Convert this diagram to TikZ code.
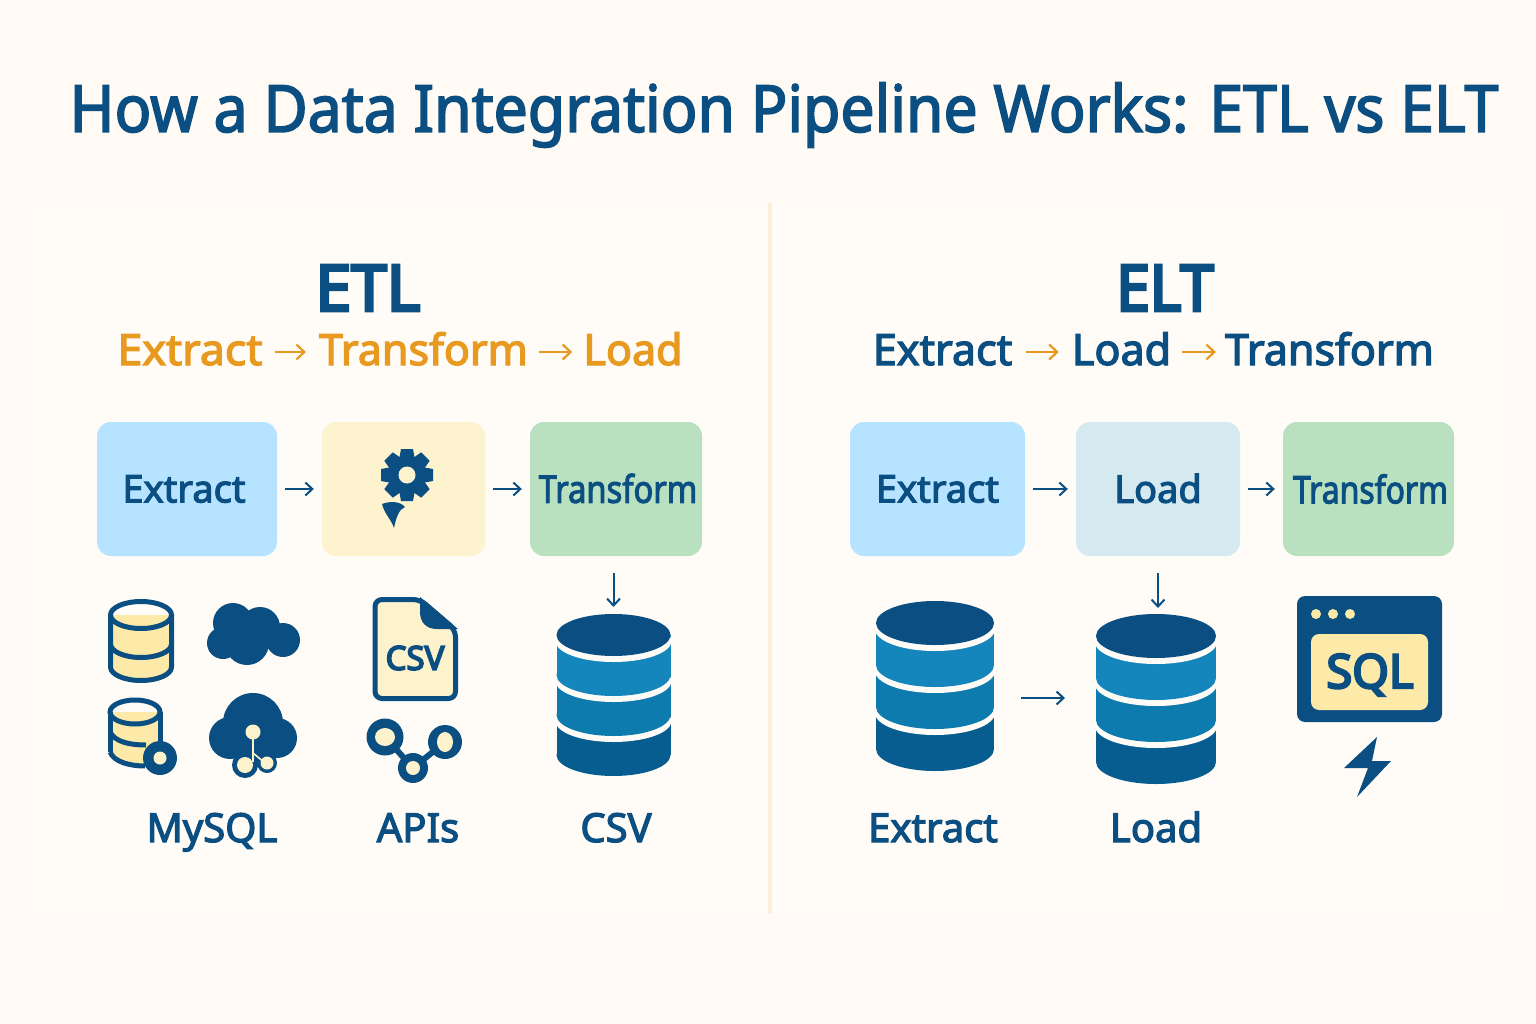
\documentclass[tikz,border=0pt]{standalone}
\usepackage{fontspec}
\usepackage{graphicx}
\usetikzlibrary{arrows.meta,calc}
\setmainfont{Noto Sans}
\newfontfamily\titlef{Noto Sans}[RawFeature={embolden=2.5},FakeStretch=0.934]
\newfontfamily\medf{Noto Sans}[RawFeature={embolden=3}]
\newfontfamily\bolf{Noto Sans}[RawFeature={embolden=5}]
\definecolor{bg}{HTML}{FFFAF4}
\definecolor{panel}{HTML}{FFFCF7}
\definecolor{rule}{HTML}{FBEEDA}
\definecolor{navy}{HTML}{0B4F82}
\definecolor{orng}{HTML}{E89A20}
\definecolor{band1}{HTML}{1586BC}
\definecolor{band2}{HTML}{0E7BAE}
\definecolor{band3}{HTML}{075C90}
\definecolor{lblue}{HTML}{B6E3FF}
\definecolor{lyell}{HTML}{FDF3CF}
\definecolor{lgreen}{HTML}{B9E1BF}
\definecolor{lteal}{HTML}{D5E9F0}
\definecolor{yel}{HTML}{FDE9A8}
\definecolor{pale}{HTML}{FCF2CB}
\tikzset{
  box/.style={rounded corners=14pt,inner sep=0pt,minimum height=134pt,text=navy,font=\medf\fontsize{38}{40}\selectfont},
  flow/.style={draw=navy,line width=2pt,-{Straight Barb[length=7pt,width=13pt,line width=2pt]},shorten <=8pt,shorten >=8pt},
  hflow/.style={draw=orng,line width=2.2pt,-{Straight Barb[length=8pt,width=15pt,line width=2.2pt]},shorten <=11pt,shorten >=11pt},
  sub/.style={inner sep=0pt,font=\medf\fontsize{43}{46}\selectfont,text height=34pt,text depth=8pt},
  lab/.style={inner sep=0pt,text=navy,font=\medf\fontsize{40}{42}\selectfont,text height=30pt,text depth=8pt},
  head/.style={inner sep=0pt,text=navy,font=\bolf\fontsize{64}{66}\selectfont},
}
\newcommand{\bigdb}[6]{% cx, top-ellipse-centre y, half width, ry, band height, name
  \pgfmathsetmacro{\ya}{#2+#5}\pgfmathsetmacro{\yb}{#2+2*#5}\pgfmathsetmacro{\yc}{#2+3*#5}
  \pgfmathsetmacro{\ga}{\ya+6}\pgfmathsetmacro{\gb}{\yb+6}\pgfmathsetmacro{\gc}{#2+6}
  \fill[band3] (#1-#3,\yb) rectangle (#1+#3,\yc);
  \fill[band3] (#1,\yc) ellipse[x radius=#3,y radius=#4];
  \fill[panel] (#1,\gb) ellipse[x radius=#3+1,y radius=#4];
  \fill[band2] (#1-#3,\ya) rectangle (#1+#3,\yb);
  \fill[band2] (#1,\yb) ellipse[x radius=#3,y radius=#4];
  \fill[panel] (#1,\ga) ellipse[x radius=#3+1,y radius=#4];
  \fill[band1] (#1-#3,#2) rectangle (#1+#3,\ya);
  \fill[band1] (#1,\ya) ellipse[x radius=#3,y radius=#4];
  \fill[panel] (#1,\gc) ellipse[x radius=#3+1,y radius=#4];
  \fill[navy] (#1,#2) ellipse[x radius=#3,y radius=#4];
  \coordinate (#6) at (#1,#2-#4);
}
\begin{document}
\begin{tikzpicture}[x=1pt,y=-1pt]
\useasboundingbox (0,0) rectangle (1536,1024);
\fill[bg] (0,0) rectangle (1536,1024);
\fill[panel] (30,205) rectangle (768,912);
\fill[panel] (772,205) rectangle (1500,912);
\fill[rule] (768,203) rectangle (772,913);

\node[inner sep=0pt,text=navy,font=\titlef\fontsize{65}{70}\selectfont] (title) at (784,115) {How a Data Integration Pipeline Works: ETL vs ELT};

\node[head] (etl) at (368,288) {ETL};
\node[head] (elt) at (1165,288) {\scalebox{0.94}[1]{ELT}};

% ETL sub-heading
\node[sub,text=orng] (s1) at (190,352) {\scalebox{1.04}[1]{Extract}};
\node[sub,text=orng] (s2) at (423.5,352) {Transform};
\node[sub,text=orng] (s3) at (633,352) {Load};
\draw[hflow,shorten <=12pt,shorten >=13pt] (s1) -- (s2);
\draw[hflow] (s2) -- (s3);
% ELT sub-heading
\node[sub,text=navy] (r1) at (942.5,352) {Extract};
\node[sub,text=navy] (r2) at (1121.5,352) {Load};
\node[sub,text=navy] (r3) at (1329.5,352) {Transform};
\draw[hflow,shorten <=14pt,shorten >=13pt] (r1) -- (r2);
\draw[hflow,shorten >=9pt] (r2) -- (r3);

% ETL boxes
\node[box,fill=lblue,minimum width=180pt] (a1) at (187,489) {\hspace*{-6pt}Extract};
\node[box,fill=lyell,minimum width=163pt] (a2) at (403.5,489) {};
\node[box,fill=lgreen,minimum width=172pt] (a3) at (616,489) {\hspace*{4pt}\raisebox{1.5pt}{\scalebox{0.86}[1]{Transform}}};
\draw[flow] (a1) -- (a2);
\draw[flow] (a2) -- (a3);

% ELT boxes
\node[box,fill=lblue,minimum width=175pt] (b1) at (937.5,489) {Extract};
\node[box,fill=lteal,minimum width=164pt] (b2) at (1158,489) {\raisebox{1.5pt}{Load}};
\node[box,fill=lgreen,minimum width=171pt] (b3) at (1368.5,489) {\hspace*{4pt}\scalebox{0.84}[1]{Transform}};
\draw[flow] (b1) -- (b2);
\draw[flow] (b2) -- (b3);

% gear
\fill[navy] (407,475) circle (19);
\foreach \a in {0,45,...,315}{
  \fill[navy,rotate around={\a:(407,475)}] (401,449) -- (413,449) -- (415,460) -- (399,460) -- cycle;
}
\fill[lyell] (407,475) circle (8.5);
\fill[navy] (382,504) .. controls (390,501) and (400,501) .. (405,507) .. controls (399,509) and (396,518) .. (394,528) .. controls (391,519) and (385,515) .. (382,504) -- cycle;

% small database 1
\fill[yel] (110.5,615) rectangle (171.5,667);
\fill[yel] (141,667) ellipse[x radius=30.5,y radius=13.5];
\draw[navy,line width=5pt] (141,615) ellipse[x radius=30.5,y radius=13.5];
\draw[navy,line width=5pt] (110.5,644) arc[start angle=180,end angle=0,x radius=30.5,y radius=13.5];
\draw[navy,line width=5pt] (110.5,615) -- (110.5,667) arc[start angle=180,end angle=0,x radius=30.5,y radius=13.5] -- (171.5,615);

% small database 2
\fill[yel] (110,712) rectangle (160,752);
\fill[yel] (135,752) ellipse[x radius=25,y radius=13];
\draw[navy,line width=5pt] (135,712) ellipse[x radius=25,y radius=12];
\draw[navy,line width=5pt] (110,712) -- (110,752) (160,712) -- (160,745);
\draw[navy,line width=5pt] (110,732) .. controls (115,742) and (130,745) .. (146,745);
\draw[navy,line width=5pt] (110,752) .. controls (114,762) and (130,766) .. (145,766);
\fill[navy] (160,758) circle (17);
\fill[pale] (160,758) circle (6.5);

% cloud 1
\fill[navy] (233,623) circle (20) (260,627) circle (20) (283,640) circle (17) (223,643) circle (16) (247,643) circle (22);

% cloud 2
\fill[navy] (253,723) circle (30) (230,738) circle (21) (277,738) circle (20) (253,745) circle (22);
\fill[navy] (245,765) circle (13) (267,763) circle (10);
\draw[pale,line width=1.6pt] (253,732) -- (253,762);
\draw[pale,line width=1.6pt] (253,753) -- (265,763);
\fill[pale] (253,732) circle (7.5) (245,765) circle (8) (267,763) circle (6.5);

% CSV file
\draw[navy,line width=5pt,fill=pale,line join=round,rounded corners=7pt] (375,599.5) -- (420,599.5) -- (455.5,630) -- (455.5,698.5) -- (375,698.5) -- cycle;
\fill[navy] (420,597) -- (458,629) -- (437,629) .. controls (426,629) and (420,622) .. (420,612) -- cycle;
\node[inner sep=0pt,text=navy,font=\bolf\fontsize{33}{36}\selectfont] (csvdoc) at (415,658) {CSV};

% network
\draw[navy,line width=6pt] (385,737) -- (413,768) -- (445,742);
\fill[navy] (385,737) circle (18.5);
\fill[navy] (445,742) circle (17);
\fill[navy] (413,768) circle (15);
\fill[pale] (385,737) ellipse[x radius=10,y radius=9];
\fill[pale] (445,742) ellipse[x radius=8,y radius=10];
\fill[pale] (413,768) circle (7);

% big databases
\bigdb{613.5}{635}{57}{21}{40}{dbcsv}
\bigdb{935}{623}{59}{22}{42}{dbext}
\bigdb{1156}{636}{60}{22}{42}{dbload}

\draw[flow,shorten <=17pt,shorten >=7pt] (a3.south -| dbcsv) -- (dbcsv);
\draw[flow,shorten <=17pt,shorten >=6pt] (b2.south) -- (dbload -| b2.south);
\coordinate (extR) at (994,698);
\coordinate (loadL) at (1096,698);
\draw[flow,shorten <=27pt,shorten >=31pt] (extR) -- (loadL);

% SQL window
\fill[navy,rounded corners=8pt] (1297,596) rectangle (1442,722);
\fill[yel] (1316,614) circle (5) (1333,614) circle (5) (1350,614) circle (5);
\fill[yel,rounded corners=8pt] (1311,634) rectangle (1428,710);
\node[inner sep=0pt,text=navy,font=\bolf\fontsize{47}{50}\selectfont] (sql) at (1370,675) {SQL};
\fill[navy] (1377,737) -- (1344,768) -- (1368,768) -- (1357,797) -- (1391,761) -- (1372,761) -- cycle;

% bottom labels
\node[lab] (l1) at (212,831) {MySQL};
\node[lab] (l2) at (418,831) {APIs};
\node[lab] (l3) at (616,831) {CSV};
\node[lab] (l4) at (933,831) {Extract};
\node[lab] (l5) at (1156,831) {Load};
\end{tikzpicture}
\end{document}
